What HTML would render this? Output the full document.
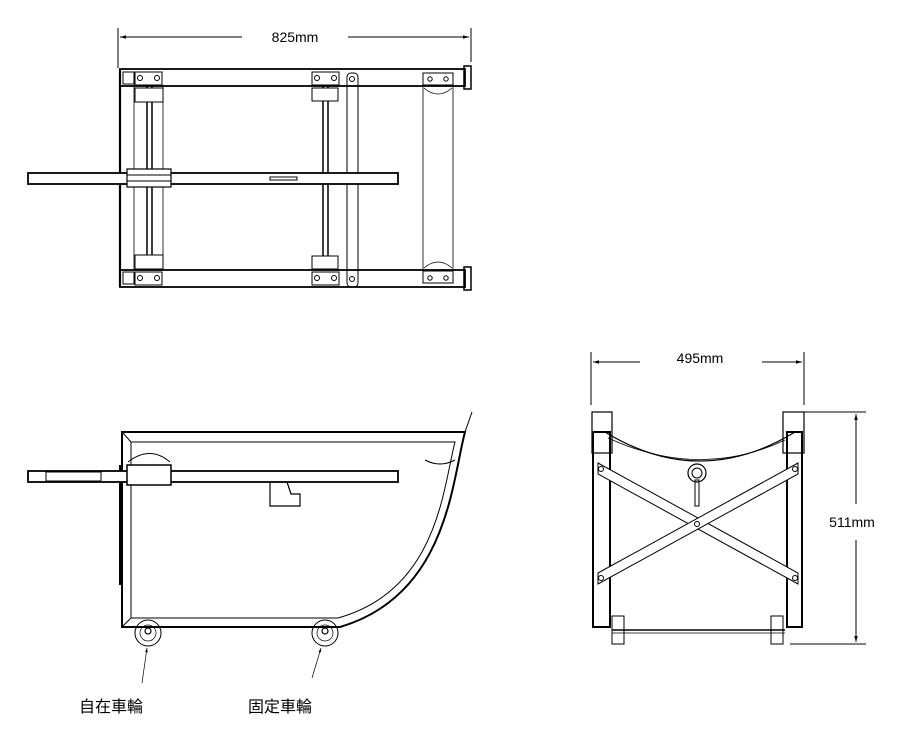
<!DOCTYPE html>
<html><head><meta charset="utf-8"><style>
html,body{margin:0;padding:0;background:#fff;}
svg{display:block;}
text{font-family:"Liberation Sans","Noto Sans CJK JP",sans-serif;fill:#000;}
</style></head><body>
<svg width="900" height="730" viewBox="0 0 900 730" xmlns="http://www.w3.org/2000/svg">
<defs>
<marker id="ar" viewBox="0 0 10 10" refX="10" refY="5" markerWidth="9" markerHeight="6" orient="auto-start-reverse"><path d="M0,2 L10,5 L0,8 z" fill="#000"/></marker>
</defs>
<g fill="none" stroke="#000">
<!-- TOP VIEW -->
<line x1="118" y1="28" x2="118" y2="68" stroke-width="1"/>
<line x1="471" y1="28" x2="471" y2="62" stroke-width="1"/>
<line x1="120" y1="37" x2="242" y2="37" stroke-width="1" marker-start="url(#ar)"/>
<line x1="348" y1="37" x2="469" y2="37" stroke-width="1" marker-end="url(#ar)"/>
<rect x="120" y="69" width="345" height="17" stroke-width="1.8"/>
<rect x="120" y="270" width="345" height="17" stroke-width="1.8"/>
<rect x="464" y="66" width="7" height="23" stroke-width="1.5"/>
<rect x="464" y="267" width="7" height="23" stroke-width="1.5"/>
<line x1="120" y1="69" x2="120" y2="287" stroke-width="2.2"/>
<line x1="134" y1="86" x2="134" y2="270" stroke-width="0.8"/>
<line x1="163" y1="86" x2="163" y2="270" stroke-width="0.8"/>
<line x1="147" y1="86" x2="147" y2="270" stroke-width="1.5"/>
<line x1="152" y1="86" x2="152" y2="270" stroke-width="1.5"/>
<line x1="323" y1="86" x2="323" y2="270" stroke-width="1.5"/>
<line x1="328" y1="86" x2="328" y2="270" stroke-width="1.5"/>
<rect x="135" y="88" width="28" height="14" fill="#fff" stroke-width="1"/>
<rect x="135" y="255" width="28" height="14" fill="#fff" stroke-width="1"/>
<rect x="312" y="88" width="26" height="13" fill="#fff" stroke-width="1"/>
<rect x="312" y="256" width="26" height="13" fill="#fff" stroke-width="1"/>
<rect x="123" y="72" width="11" height="12" stroke-width="1"/>
<rect x="135" y="72" width="27" height="13" stroke-width="1"/>
<rect x="312" y="72" width="27" height="13" stroke-width="1"/>
<rect x="123" y="272" width="11" height="12" stroke-width="1"/>
<rect x="135" y="272" width="27" height="13" stroke-width="1"/>
<rect x="312" y="272" width="27" height="13" stroke-width="1"/>
<circle cx="140" cy="78" r="2.5"/><circle cx="157" cy="78" r="2.5"/>
<circle cx="317" cy="78" r="2.5"/><circle cx="334" cy="78" r="2.5"/>
<circle cx="140" cy="278" r="2.5"/><circle cx="157" cy="278" r="2.5"/>
<circle cx="317" cy="278" r="2.5"/><circle cx="334" cy="278" r="2.5"/>
<rect x="347" y="73" width="11" height="214" rx="4" stroke-width="1"/>
<circle cx="352" cy="79" r="2.5"/><circle cx="352" cy="279" r="2.5"/>
<rect x="423" y="86" width="30" height="184" stroke-width="0.8"/>
<rect x="423" y="73" width="30" height="12" stroke-width="1"/>
<rect x="423" y="271" width="30" height="12" stroke-width="1"/>
<circle cx="430" cy="79" r="2.2"/><circle cx="446" cy="79" r="2.2"/>
<circle cx="430" cy="278" r="2.2"/><circle cx="446" cy="278" r="2.2"/>
<path d="M424,88 Q438,100 452,88 M424,268 Q438,256 452,268" stroke-width="0.8"/>
<rect x="28" y="173" width="370" height="11" fill="#fff" stroke-width="1.8"/>
<rect x="127" y="169" width="44" height="18" fill="#fff" stroke-width="1.2"/>
<line x1="127" y1="175" x2="171" y2="175" stroke-width="1"/>
<line x1="127" y1="181" x2="171" y2="181" stroke-width="1"/>
<rect x="270" y="177" width="27" height="3" stroke-width="1"/>
<!-- SIDE VIEW -->
<path d="M122,432 L465,432 C452,480 448,595 340,627 L122,627 Z" stroke-width="2"/>
<path d="M131,442 L455,442 C443,488 438,590 338,618 L131,618 Z" stroke-width="1"/>
<line x1="122" y1="432" x2="131" y2="442" stroke-width="1"/>
<line x1="122" y1="627" x2="131" y2="618" stroke-width="1"/>
<line x1="465" y1="432" x2="472" y2="412" stroke-width="1"/>
<line x1="120" y1="465" x2="120" y2="585" stroke-width="2"/>
<path d="M128,462 Q150,445 170,462" stroke-width="1"/>
<path d="M425,460 Q440,468 455,460" stroke-width="1"/>
<rect x="28" y="471" width="370" height="11" fill="#fff" stroke-width="1.8"/>
<rect x="46" y="472" width="55" height="9" stroke-width="1"/>
<rect x="127" y="465" width="44" height="20" fill="#fff" stroke-width="1.5"/>
<path d="M270,482 L270,506 L300,506 L300,494 L291,494 L287,482" stroke-width="1.2"/>
<circle cx="148" cy="633" r="13" stroke-width="1"/>
<circle cx="148" cy="633" r="8" stroke-width="0.7"/>
<circle cx="148" cy="631" r="3" stroke-width="1.2"/>
<circle cx="325" cy="633" r="13" stroke-width="1"/>
<circle cx="325" cy="633" r="8" stroke-width="0.7"/>
<circle cx="325" cy="631" r="3" stroke-width="1.2"/>
<line x1="142" y1="683" x2="147" y2="648" stroke-width="0.7" marker-end="url(#ar)"/>
<line x1="312" y1="678" x2="321" y2="648" stroke-width="0.7" marker-end="url(#ar)"/>
<!-- FRONT VIEW -->
<line x1="591" y1="352" x2="591" y2="405" stroke-width="1"/>
<line x1="804" y1="352" x2="804" y2="405" stroke-width="1"/>
<line x1="593" y1="362" x2="640" y2="362" stroke-width="1" marker-start="url(#ar)"/>
<line x1="762" y1="362" x2="802" y2="362" stroke-width="1" marker-end="url(#ar)"/>
<rect x="592" y="412" width="20" height="41" stroke-width="1.2"/>
<rect x="783" y="412" width="21" height="41" stroke-width="1.2"/>
<rect x="593" y="432" width="17" height="195" stroke-width="2"/>
<rect x="787" y="432" width="15" height="195" stroke-width="2"/>
<path d="M605,432 Q700,490 795,432" stroke-width="1.2"/>
<path d="M608,438 Q700,480 785,440" stroke-width="0.8"/>
<path d="M598,463 L798,573 L798,584 L598,474 Z" fill="#fff" stroke-width="1"/>
<path d="M598,573 L798,463 L798,474 L598,584 Z" fill="#fff" stroke-width="1"/>
<circle cx="601" cy="469" r="2.5"/><circle cx="795" cy="578" r="2.5"/>
<circle cx="601" cy="578" r="2.5"/><circle cx="795" cy="469" r="2.5"/>
<circle cx="697" cy="524" r="2.5"/>
<circle cx="697" cy="473" r="9" stroke-width="1.2"/>
<circle cx="697" cy="473" r="5" stroke-width="1"/>
<rect x="695" y="480" width="4" height="26" stroke-width="1"/>
<line x1="612" y1="630" x2="785" y2="630" stroke-width="1.5"/>
<line x1="612" y1="633" x2="785" y2="633" stroke-width="0.8"/>
<rect x="612" y="616" width="12" height="28" stroke-width="1"/>
<rect x="771" y="616" width="12" height="28" stroke-width="1"/>
<line x1="800" y1="412" x2="866" y2="412" stroke-width="1"/>
<line x1="790" y1="644" x2="866" y2="644" stroke-width="1"/>
<line x1="856" y1="504" x2="856" y2="414" stroke-width="1" marker-end="url(#ar)"/>
<line x1="856" y1="540" x2="856" y2="642" stroke-width="1" marker-end="url(#ar)"/>
</g>
<text x="295" y="42" font-size="14" text-anchor="middle">825mm</text>
<text x="700" y="363" font-size="14" text-anchor="middle">495mm</text>
<text x="852" y="527" font-size="14" text-anchor="middle">511mm</text>
<text x="79" y="712" font-size="16">自在車輪</text>
<text x="248" y="712" font-size="16">固定車輪</text>
</svg>
</body></html>
